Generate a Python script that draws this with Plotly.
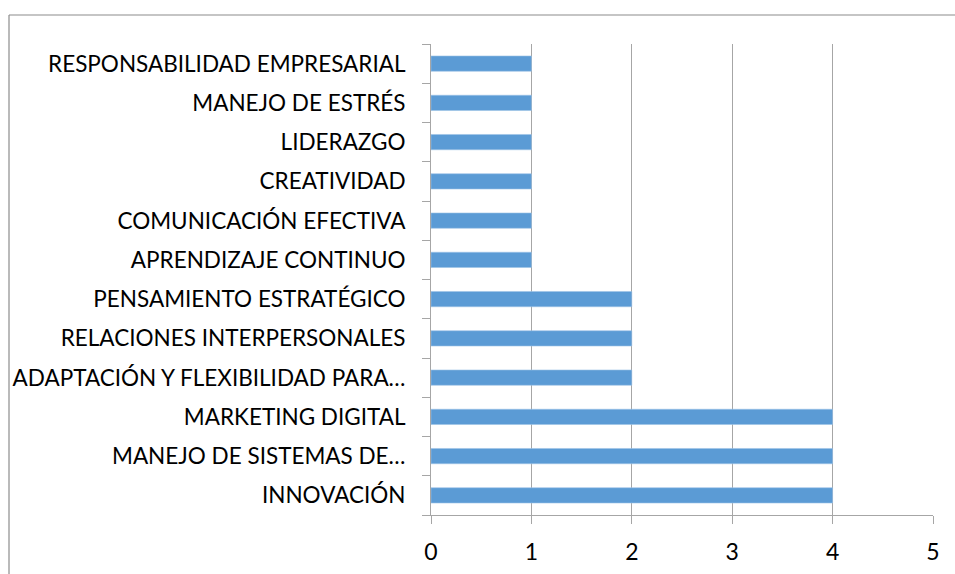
import plotly.graph_objects as go

categories = [
    "INNOVACIÓN",
    "MANEJO DE SISTEMAS DE…",
    "MARKETING DIGITAL",
    "ADAPTACIÓN Y FLEXIBILIDAD PARA…",
    "RELACIONES INTERPERSONALES",
    "PENSAMIENTO ESTRATÉGICO",
    "APRENDIZAJE CONTINUO",
    "COMUNICACIÓN EFECTIVA",
    "CREATIVIDAD",
    "LIDERAZGO",
    "MANEJO DE ESTRÉS",
    "RESPONSABILIDAD EMPRESARIAL",
]
values = [4, 4, 4, 2, 2, 2, 1, 1, 1, 1, 1, 1]
x_ticks = [0, 1, 2, 3, 4, 5]

W, H = 955, 574
L, R, T, B = 431, 22, 44, 59
pw = W - L - R
ph = H - T - B

fig = go.Figure(go.Bar(
    x=values, y=categories, orientation="h",
    marker=dict(color="#5B9BD5", line=dict(color="#9DC3E6", width=0.6)),
    hoverinfo="x+y",
))

fig.update_layout(
    width=W, height=H,
    margin=dict(l=L, r=R, t=T, b=B, autoexpand=False),
    paper_bgcolor="white", plot_bgcolor="white",
    bargap=0.61,
    showlegend=False,
    font=dict(family="Lato, Open Sans, sans-serif", color="#000000"),
)
fig.update_xaxes(
    range=[0, 5], tickvals=x_ticks, ticktext=[str(v) for v in x_ticks],
    showgrid=True, gridcolor="#A6A6A6", gridwidth=1,
    showline=True, linecolor="#A6A6A6", linewidth=1,
    ticks="outside", ticklen=8, tickcolor="#A6A6A6",
    ticklabelstandoff=8,
    tickfont=dict(size=23, family="Lato, sans-serif"),
    zeroline=False, fixedrange=True,
)
fig.update_yaxes(
    categoryorder="array", categoryarray=categories,
    showline=True, linecolor="#A6A6A6", linewidth=1,
    ticks="outside", ticklen=8, tickcolor="#A6A6A6",
    tickson="boundaries",
    ticklabelstandoff=20,
    tickfont=dict(size=22.5, family="Lato, sans-serif"),
    showgrid=False, fixedrange=True,
)

# outer chart frame (left and top edges visible)
x0 = (9 - L) / pw
y1 = 1 + (T - 15) / ph
fig.add_shape(type="line", xref="paper", yref="paper",
              x0=x0, x1=x0, y0=-1, y1=y1,
              line=dict(color="#8C8C8C", width=1.2))
fig.add_shape(type="line", xref="paper", yref="paper",
              x0=x0, x1=2, y0=y1, y1=y1,
              line=dict(color="#8C8C8C", width=1.2))

fig.write_html("out.html",
               config={"displayModeBar": False},
               post_script="document.body.style.margin='0';document.body.style.overflow='hidden';")
